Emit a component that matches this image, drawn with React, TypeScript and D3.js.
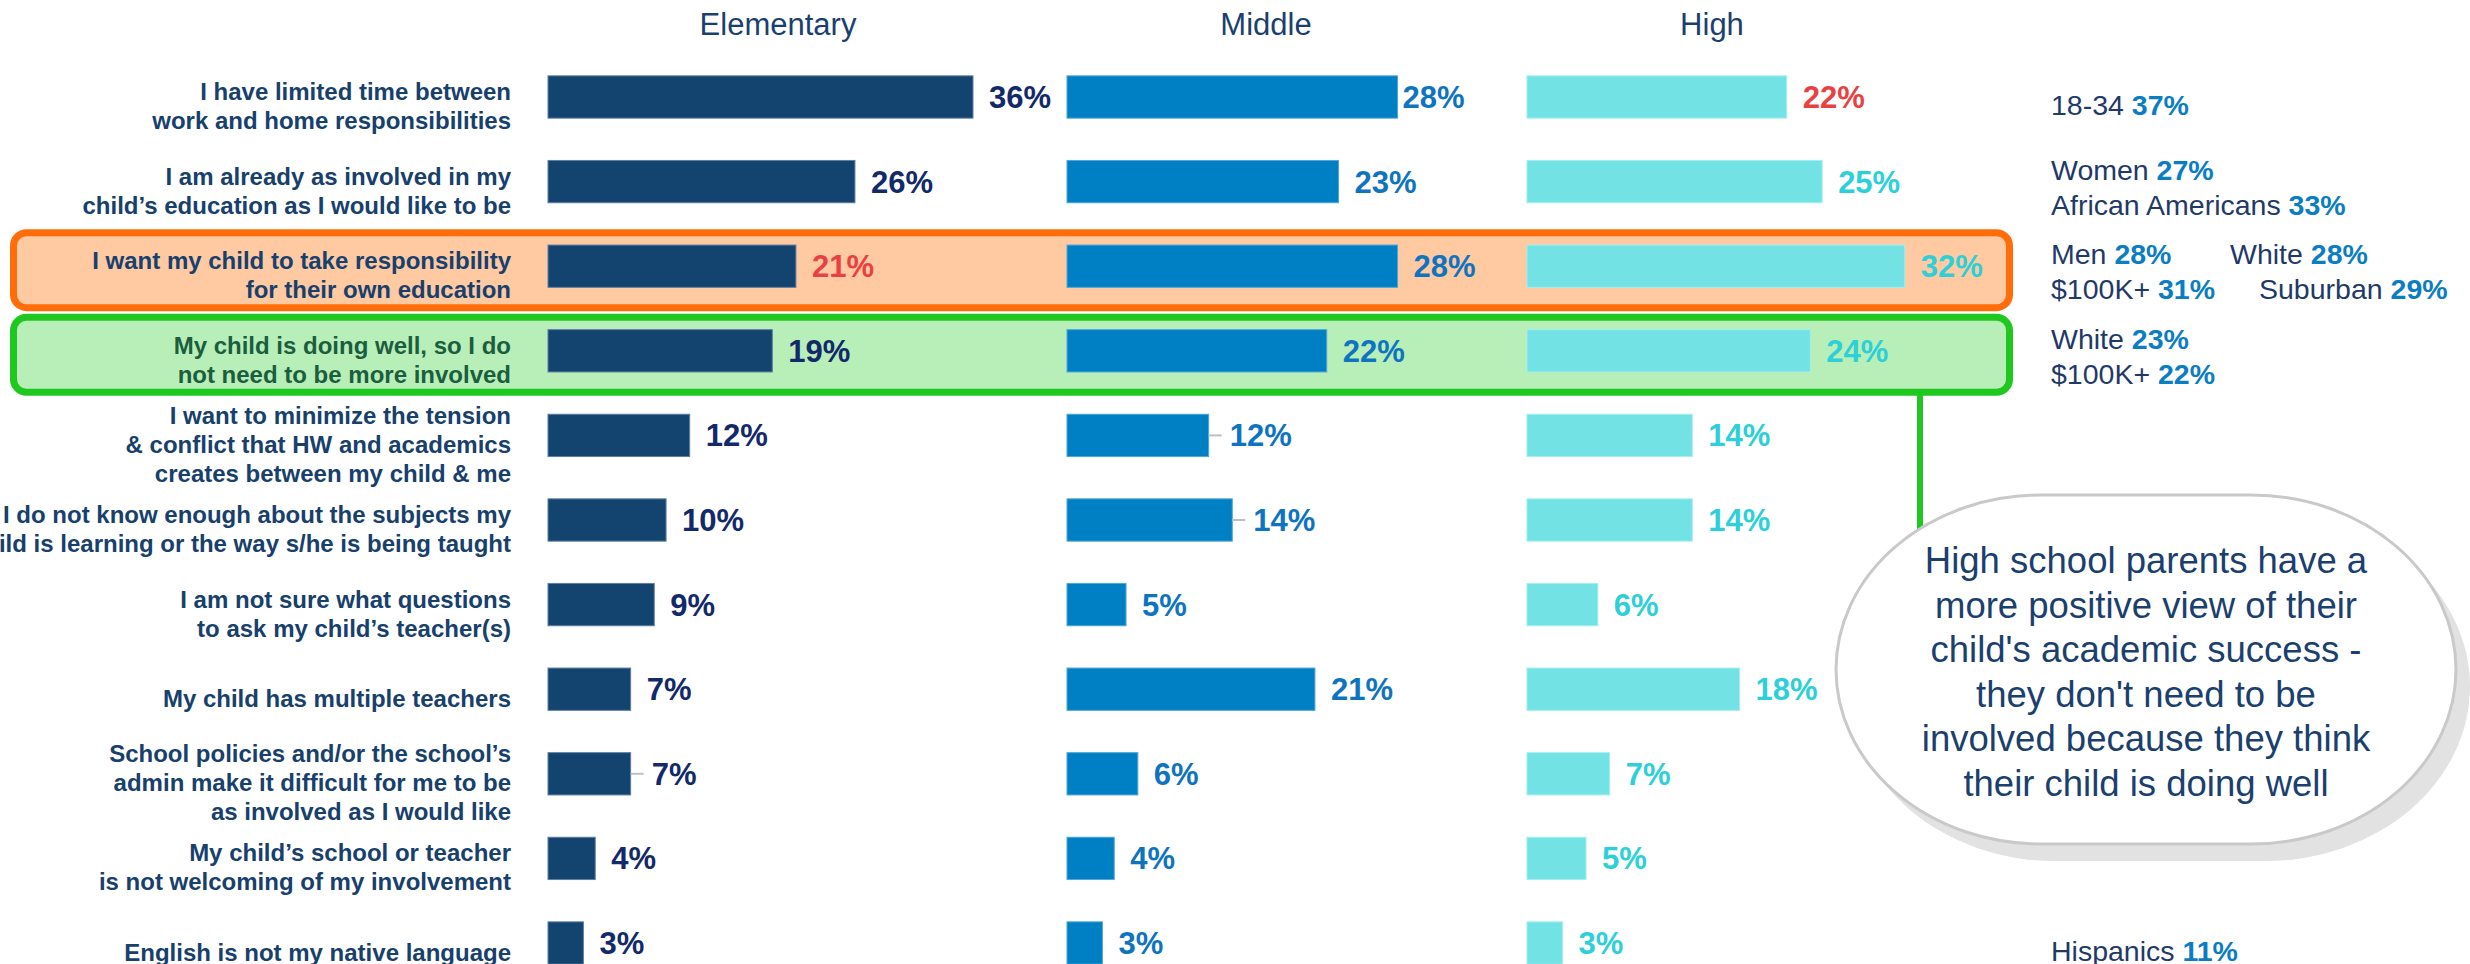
import React from 'react';
import * as d3 from 'd3';

// survey reasons, one entry per row (line breaks as in the original slide)
const reasons = [
  ['I have limited time between', 'work and home responsibilities'],
  ['I am already as involved in my', 'child’s education as I would like to be'],
  ['I want my child to take responsibility', 'for their own education'],
  ['My child is doing well, so I do', 'not need to be more involved'],
  ['I want to minimize the tension', '& conflict that HW and academics', 'creates between my child & me'],
  ['I do not know enough about the subjects my', 'child is learning or the way s/he is being taught'],
  ['I am not sure what questions', 'to ask my child’s teacher(s)'],
  ['My child has multiple teachers'],
  ['School policies and/or the school’s', 'admin make it difficult for me to be', 'as involved as I would like'],
  ['My child’s school or teacher', 'is not welcoming of my involvement'],
  ['English is not my native language'],
];

const levels = ['Elementary', 'Middle', 'High'];
const elementary = [36, 26, 21, 19, 12, 10, 9, 7, 7, 4, 3];
const middle = [28, 23, 28, 22, 12, 14, 5, 21, 6, 4, 3];
const high = [22, 25, 32, 24, 14, 14, 6, 18, 7, 5, 3];
const series = [elementary, middle, high];

// callouts on the right: label, value, row, line within row, column
const noteLabels = ['18-34', 'Women', 'African Americans', 'Men', 'White', '$100K+', 'Suburban', 'White', '$100K+', 'Hispanics'];
const noteValues = [37, 27, 33, 28, 28, 31, 29, 23, 22, 11];
const noteRows = [0, 1, 1, 2, 2, 2, 2, 3, 3, 10];
const noteLines = [0, 0, 1, 0, 0, 1, 1, 0, 1, 0];
const noteCols = [0, 0, 0, 0, 1, 0, 1, 0, 0, 0];

const redValues = [[0, 2], [2, 0]]; // [column, row]
const leaderValues = [[0, 8], [1, 4], [1, 5]];
const tightValues = [[1, 0]];
const orangeRow = 2;
const greenRow = 3;

const bubbleLines = [
  'High school parents have a',
  'more positive view of their',
  "child's academic success -",
  "they don't need to be",
  'involved because they think',
  'their child is doing well',
];

const W = 2470;
const H = 964;
const font = '"Liberation Sans", Arial, sans-serif';
const colX = [548, 1067, 1527];
const headX = [778, 1266, 1712];
const labelRight = 511;

const barFill = ['#134470', '#0080c4', '#72e2e4'];
const barEdge = ['#5d7fa3', '#4fa6da', '#a4eef0'];
const valueFill = ['#12296a', '#0f74bf', '#2dcfd8'];
const navy = '#17406d';

const y = d3.scaleBand<number>()
  .domain(d3.range(reasons.length))
  .range([54.7, 985.3])
  .paddingInner(0.5)
  .paddingOuter(0.25);

const x = d3.scaleLinear().domain([0, 36]).range([0, 425]);

const mid = (i: number) => (y(i) as number) + y.bandwidth() / 2;

const isIn = (list: number[][], c: number, r: number) =>
  list.some(([a, b]) => a === c && b === r);

const HighlightBox = ({ row, stroke, fill }: { row: number; stroke: string; fill: string }) => {
  const top = mid(row) - 37;
  const bottom = mid(row) + 45;
  return (
    <rect
      x={13.5}
      y={top + 3.5}
      width={2013 - 3.5 - 13.5}
      height={bottom - top - 7}
      rx={13}
      ry={13}
      fill={fill}
      stroke={stroke}
      strokeWidth={7}
    />
  );
};

const Bubble = () => {
  const bx = 1836, by = 495, bw = 620, bh = 349;
  const cx = bx + bw / 2;
  return (
    <g>
      <rect x={bx + 14} y={by + 17} width={bw} height={bh} rx={205} ry={175} fill="#e2e2e2" />
      <line x1={1920} x2={1920} y1={mid(greenRow) + 42} y2={by + 40} stroke="#1ec81e" strokeWidth={6} />
      <rect x={bx} y={by} width={bw} height={bh} rx={205} ry={175} fill="#fff" stroke="#c9c9c9" strokeWidth={3} />
      <text x={cx} fontFamily={font} fontSize={36.5} fill="#1b3f6e" textAnchor="middle">
        {bubbleLines.map((l, i) => (
          <tspan key={i} x={cx} y={573 + i * 44.6}>{l}</tspan>
        ))}
      </text>
    </g>
  );
};

const App = () => (
  <div>
    <style>{'body{margin:0;overflow:hidden;background:#fff}'}</style>
    <svg width={W} height={H} style={{ display: 'block' }}>
      <rect width={W} height={H} fill="#fff" />

      <HighlightBox row={orangeRow} stroke="#ff6d0a" fill="#ffc9a2" />
      <HighlightBox row={greenRow} stroke="#1ec81e" fill="#b8eeb8" />

      {levels.map((lv, c) => (
        <text key={lv} x={headX[c]} y={35} textAnchor="middle" fontFamily={font} fontSize={31} fill="#1b3f6e">
          {lv}
        </text>
      ))}

      {reasons.map((lines, r) => {
        const n = lines.length;
        const first = mid(r) + 9 - ((n - 1) * 29) / 2 + 8.5;
        return (
          <text
            key={r}
            textAnchor="end"
            fontFamily={font}
            fontWeight="bold"
            fontSize={24}
            fill={r === greenRow ? '#1b5e3e' : navy}
          >
            {lines.map((l, i) => (
              <tspan key={i} x={labelRight} y={first + i * 29}>{l}</tspan>
            ))}
          </text>
        );
      })}

      {series.map((vals, c) => (
        <g key={c}>
          {vals.map((v, r) => {
            const x0 = colX[c];
            const x1 = x0 + x(v);
            const leader = isIn(leaderValues, c, r);
            const gap = leader ? 21 : isIn(tightValues, c, r) ? 5 : 16;
            return (
              <g key={r}>
                <rect
                  x={x0}
                  y={y(r)}
                  width={x(v)}
                  height={y.bandwidth()}
                  fill={barFill[c]}
                  stroke={barEdge[c]}
                  strokeWidth={1}
                />
                {leader && (
                  <line x1={x1} x2={x1 + 13} y1={mid(r)} y2={mid(r)} stroke="#c0c0c0" strokeWidth={2} />
                )}
                <text
                  x={x1 + gap}
                  y={mid(r) + 11}
                  fontFamily={font}
                  fontWeight="bold"
                  fontSize={31}
                  fill={isIn(redValues, c, r) ? '#e94141' : valueFill[c]}
                >
                  {v}%
                </text>
              </g>
            );
          })}
        </g>
      ))}

      {noteLabels.map((lab, i) => {
        const r = noteRows[i];
        const multi = noteRows.some((q, j) => q === r && noteLines[j] === 1);
        const base = multi ? mid(r) - 2 + noteLines[i] * 35 : mid(r) + 18;
        const nx = noteCols[i] === 0 ? 2051 : noteLines[i] === 0 ? 2230 : 2259;
        return (
          <text key={i} x={nx} y={base} fontFamily={font} fontSize={28.5} fill="#1f3a68">
            {lab + ' '}
            <tspan fontWeight="bold" fill="#0b7dc2">{noteValues[i]}%</tspan>
          </text>
        );
      })}

      <Bubble />
    </svg>
  </div>
);

export default App;
